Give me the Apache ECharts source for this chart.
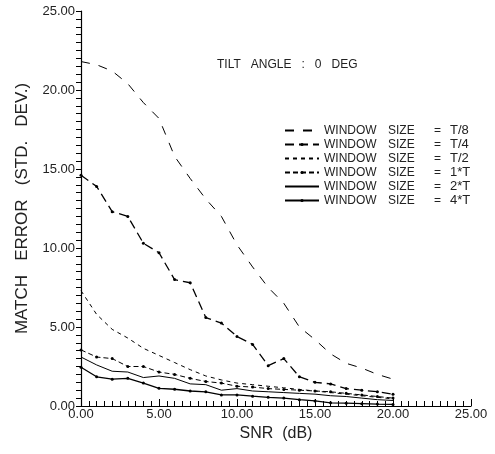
<!DOCTYPE html>
<html>
<head>
<meta charset="utf-8">
<title>match error</title>
<script src="https://cdn.jsdelivr.net/npm/echarts@6/dist/echarts.min.js"></script>
<style>
    html, body { margin: 0; padding: 0; background: #fff; }
    #chart { width: 495px; height: 454px; }
</style>
</head>
<body>
<div id="chart"></div>
<script>
//SNR (dB)
var snr = [0, 1, 2, 3, 4, 5, 6, 7, 8, 9, 10, 11, 12, 13, 14, 15, 16, 17, 18, 19, 20];
//legend names
var windowSizes = ['T/8', 'T/4', 'T/2', '1*T', '2*T', '4*T'];
//match error values for each window size
var errT8 = [21.8, 21.6, 21.2, 20.4, 19.2, 18.2, 15.8, 14.4, 13.1, 12.0, 10.2, 8.8, 7.5, 6.5, 5.0, 4.2, 3.3, 2.7, 2.4, 2.0, 1.7];
var errT4 = [14.6, 13.9, 12.3, 12.0, 10.3, 9.7, 8.0, 7.8, 5.6, 5.25, 4.4, 3.9, 2.55, 3.0, 1.85, 1.5, 1.4, 1.1, 1.0, 0.9, 0.75];
var errT2 = [7.3, 5.8, 4.85, 4.3, 3.65, 3.2, 2.75, 2.3, 1.9, 1.65, 1.45, 1.35, 1.25, 1.15, 1.05, 0.95, 0.85, 0.75, 0.65, 0.55, 0.45];
var err1T = [3.55, 3.1, 3.0, 2.5, 2.5, 2.15, 2.0, 1.75, 1.55, 1.45, 1.25, 1.2, 1.1, 1.05, 1.0, 0.95, 0.9, 0.8, 0.7, 0.6, 0.5];
var err2T = [3.1, 2.6, 2.2, 2.15, 1.8, 1.9, 1.75, 1.4, 1.35, 1.0, 1.1, 0.95, 0.9, 0.85, 0.8, 0.75, 0.65, 0.6, 0.5, 0.4, 0.35];
var err4T = [2.45, 1.85, 1.7, 1.75, 1.45, 1.12, 1.06, 0.95, 0.9, 0.7, 0.7, 0.62, 0.55, 0.5, 0.4, 0.32, 0.2, 0.18, 0.15, 0.12, 0.1];
//哪些曲线带点
var hasDots = [false, true, false, true, false, true];

//把x和y拼成点
function toPoints(values){
    var pts = [];
    for(var i=0;i<snr.length;i++){
        pts.push([snr[i], values[i]]);
    }
    return pts;
}

var fontName = 'Liberation Sans';
var ink = '#222';

function makeSeries(name, values, dash, withDots, width){
    return {
        name: name,
        type: 'line',
        data: toPoints(values),
        symbol: withDots ? 'circle' : 'none',
        symbolSize: 3,
        showSymbol: withDots,
        itemStyle: { color: '#000' },
        lineStyle: { color: '#000', width: width, type: dash },
        silent: true,
        animation: false
    };
}

//legend里没点的曲线把点藏掉
var legendData = [];
for(var k=0;k<windowSizes.length;k++){
    legendData.push({
        name: windowSizes[k],
        itemStyle: { opacity: hasDots[k] ? 1 : 0 }
    });
}

var myChart = echarts.init(document.getElementById('chart'));

var option = {
    backgroundColor: '#fff',
    title: {
        text: 'TILT   ANGLE   :   0   DEG',
        left: 212,
        top: 54,
        textStyle: { fontFamily: fontName, fontSize: 12, fontWeight: 'normal', color: ink }
    },
    legend: {
        orient: 'vertical',
        left: 279,
        top: 119,
        itemWidth: 34,
        itemHeight: 4,
        itemGap: 1,
        data: legendData,
        formatter: function(name){
            return '{a|WINDOW}{b|SIZE}{c|=}{d|' + name + '}';
        },
        textStyle: {
            fontFamily: fontName,
            fontSize: 12,
            color: ink,
            lineHeight: 12,
            rich: {
                a: { width: 64, height: 12, fontFamily: fontName, fontSize: 12, color: ink },
                b: { width: 46, height: 12, fontFamily: fontName, fontSize: 12, color: ink },
                c: { width: 8, height: 12, fontFamily: fontName, fontSize: 12, color: ink, padding: [0, 8, 0, 0] },
                d: { height: 12, fontFamily: fontName, fontSize: 13, color: ink }
            }
        }
    },
    grid: {
        left: 81,
        right: 24,
        top: 11,
        bottom: 48
    },
    xAxis: {
        type: 'value',
        min: 0,
        max: 25,
        interval: 5,
        name: 'SNR  (dB)',
        nameLocation: 'middle',
        nameGap: 11,
        nameTextStyle: { fontFamily: fontName, fontSize: 16, color: ink },
        axisLine: { lineStyle: { color: '#000', width: 1.2 } },
        axisTick: { show: true, inside: true, length: 7, lineStyle: { color: '#000' } },
        minorTick: { show: true, splitNumber: 10, length: 5, lineStyle: { color: '#000' } },
        splitLine: { show: false },
        axisLabel: {
            margin: 2,
            fontFamily: fontName,
            fontSize: 13,
            color: ink,
            formatter: function(v){ return v.toFixed(2); }
        }
    },
    yAxis: {
        type: 'value',
        min: 0,
        max: 25,
        interval: 5,
        name: 'MATCH   ERROR   (STD.   DEV.)',
        nameLocation: 'middle',
        nameGap: 50,
        nameTextStyle: { fontFamily: fontName, fontSize: 17, color: ink },
        axisLine: { show: true, lineStyle: { color: '#000', width: 1.2 } },
        axisTick: { show: true, inside: false, length: 5, lineStyle: { color: '#000' } },
        minorTick: { show: true, splitNumber: 10, length: 5, lineStyle: { color: '#000' } },
        splitLine: { show: false },
        axisLabel: {
            margin: 6,
            fontFamily: fontName,
            fontSize: 13,
            color: ink,
            formatter: function(v){ return v.toFixed(2); }
        }
    },
    series: [
        makeSeries('T/8', errT8, [9, 9], hasDots[0], 1),
        makeSeries('T/4', errT4, [9, 5], hasDots[1], 1.3),
        makeSeries('T/2', errT2, [4, 4], hasDots[2], 1),
        makeSeries('1*T', err1T, [5, 3], hasDots[3], 1),
        makeSeries('2*T', err2T, 'solid', hasDots[4], 1),
        makeSeries('4*T', err4T, 'solid', hasDots[5], 1.3)
    ]
};
myChart.setOption(option);
</script>
</body>
</html>
